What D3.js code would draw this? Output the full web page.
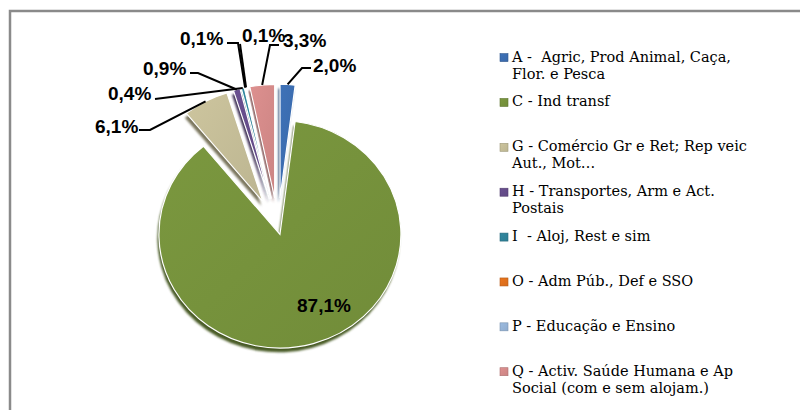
<!DOCTYPE html>
<html>
<head>
<meta charset="utf-8">
<script src="https://cdn.jsdelivr.net/npm/d3@7/dist/d3.min.js"></script>
<style>
  body { margin: 0; background: #fff; }
  .lab { font-family: "Liberation Sans", Arial, sans-serif; font-weight: bold; font-size: 19px; fill: #000; }
  .leg { font-family: "DejaVu Serif", serif; font-size: 14.5px; fill: #000; white-space: pre; }
</style>
</head>
<body>
<svg id="chart" width="800" height="410"></svg>
<script>
// sectors, clockwise from 12 o'clock
var codes = ["A", "C", "G", "H", "I", "O", "P", "Q"];
var values = [2.0, 87.1, 6.1, 0.9, 0.4, 0.1, 0.1, 3.3];
var legendLines = [
  ["A -  Agric, Prod Animal, Caça,", "Flor. e Pesca"],
  ["C - Ind transf"],
  ["G - Comércio Gr e Ret; Rep veic", "Aut., Mot…"],
  ["H - Transportes, Arm e Act.", "Postais"],
  ["I  - Aloj, Rest e sim"],
  ["O - Adm Púb., Def e SSO"],
  ["P - Educação e Ensino"],
  ["Q - Activ. Saúde Humana e Ap", "Social (com e sem alojam.)"]
];
var colors = ["#3b6db0", "#76923c", "#c4bd97", "#654c8a", "#2f8299", "#e0701c", "#95b3d7", "#d48a89"];

// how far each slice is pulled out, and where its label sits (text x, baseline, leader elbow)
var explodeBy = [32, 7, 32, 32, 32, 32, 32, 32];
var labelAt = [
  {x: 313, y: 72, elbow: [[311, 68], [302, 68]]},
  {x: 297, y: 312, elbow: null},
  {x: 95, y: 133, elbow: [[139, 130], [150, 130]]},
  {x: 143, y: 75, elbow: [[190, 73], [198, 73]]},
  {x: 108, y: 100, elbow: [[155, 99]]},
  {x: 180, y: 45, elbow: [[227, 43], [238, 43]]},
  {x: 242, y: 42, elbow: [[240, 44]]},
  {x: 283, y: 47, elbow: [[279, 45], [270, 45]]}
];

var svg = d3.select("#chart");
var cx = 278, cy = 228, r = 121, tilt = 0.94;

// frame (only top and left edges fall inside the picture)
svg.append("path")
  .attr("d", "M10,420 L10,11 L810,11")
  .attr("fill", "none").attr("stroke", "#8a8a8a").attr("stroke-width", 2.5);

var defs = svg.append("defs");
colors.forEach(function(c, i) {
  var g = defs.append("linearGradient").attr("id", "grad" + i)
    .attr("x1", "0").attr("y1", "0").attr("x2", "1").attr("y2", "1");
  g.append("stop").attr("offset", "0%").attr("stop-color", d3.color(c).brighter(0.12));
  g.append("stop").attr("offset", "100%").attr("stop-color", d3.color(c).darker(0.12));
});
var blur = defs.append("filter").attr("id", "soft");
blur.append("feGaussianBlur").attr("stdDeviation", 1);

var pie = d3.pie().sort(null).value(function(d) { return d; });
var arcs = pie(values);
var arc = d3.arc().innerRadius(0).outerRadius(r);

function mid(d) { return (d.startAngle + d.endAngle) / 2; }
function shift(d, i) {
  var a = mid(d), e = explodeBy[i];
  return [e * Math.sin(a), -e * Math.cos(a)];
}

var pieG = svg.append("g")
  .attr("transform", "translate(" + cx + "," + cy + ") scale(1," + tilt + ")");

// dark side of each slice
pieG.selectAll(".side")
  .data(arcs)
  .enter().append("path")
  .attr("class", "side")
  .attr("d", arc)
  .attr("transform", function(d, i) {
    var s = shift(d, i);
    return "translate(" + (s[0] - 1.5) + "," + (s[1] + 4.5) + ")";
  })
  .attr("fill", function(d, i) { return d3.color(colors[i]).darker(1.3); })
  .attr("filter", "url(#soft)");

pieG.selectAll(".slice")
  .data(arcs)
  .enter().append("path")
  .attr("class", "slice")
  .attr("d", arc)
  .attr("transform", function(d, i) {
    var s = shift(d, i);
    return "translate(" + s[0] + "," + s[1] + ")";
  })
  .attr("fill", function(d, i) { return "url(#grad" + i + ")"; })
  .attr("stroke", "#fff")
  .attr("stroke-width", 1.2);

// leader lines, from the label elbow to the slice's outer edge
var line = d3.line();
arcs.forEach(function(d, i) {
  var lab = labelAt[i];
  if (!lab.elbow) return;
  var s = shift(d, i), a = mid(d);
  var edge = [cx + s[0] + r * Math.sin(a), cy + tilt * (s[1] - r * Math.cos(a))];
  svg.append("path")
    .attr("d", line(lab.elbow.concat([edge])))
    .attr("fill", "none").attr("stroke", "#000").attr("stroke-width", 2);
});

svg.selectAll(".lab")
  .data(arcs)
  .enter().append("text")
  .attr("class", "lab")
  .attr("x", function(d, i) { return labelAt[i].x; })
  .attr("y", function(d, i) { return labelAt[i].y; })
  .text(function(d) { return d3.format(".1f")(d.data).replace(".", ",") + "%"; });

// legend
var legY = d3.scaleLinear().domain([0, codes.length - 1]).range([61.6, 375.7]);
var leg = svg.selectAll(".legItem")
  .data(codes)
  .enter().append("g")
  .attr("class", "legItem")
  .attr("transform", function(d, i) { return "translate(0," + legY(i) + ")"; });

leg.append("rect")
  .attr("x", 500).attr("y", -8)
  .attr("width", 8).attr("height", 8)
  .attr("fill", function(d, i) { return "url(#grad" + i + ")"; })
  .attr("stroke", function(d, i) { return d3.color(colors[i]).darker(0.6); })
  .attr("stroke-width", 0.6);

leg.each(function(d, i) {
  var t = d3.select(this).append("text").attr("class", "leg");
  legendLines[i].forEach(function(s, k) {
    t.append("tspan").attr("x", 512).attr("y", k * 17).text(s);
  });
});
</script>
</body>
</html>
